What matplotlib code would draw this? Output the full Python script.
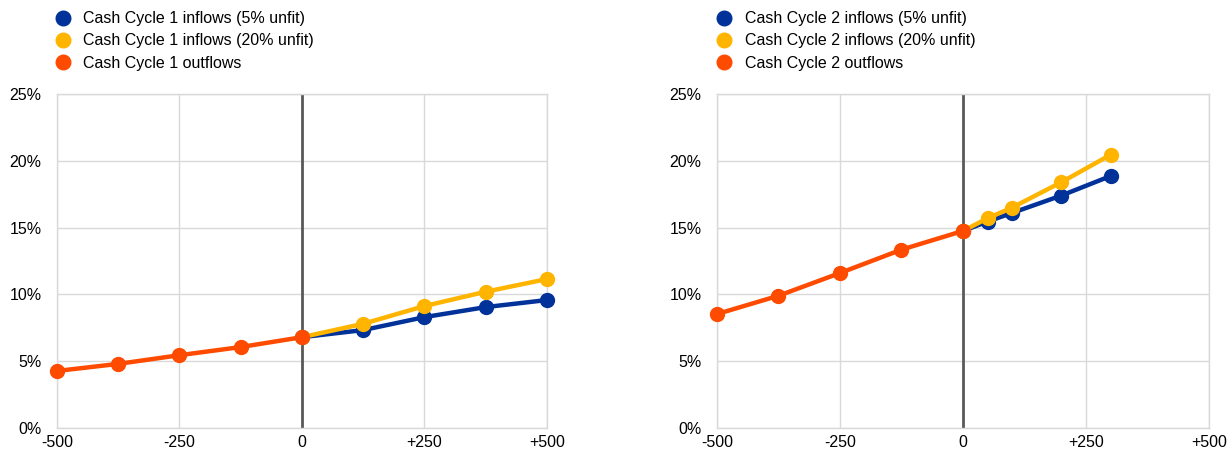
import matplotlib
matplotlib.use("Agg")
import matplotlib.pyplot as plt
from matplotlib.lines import Line2D
from matplotlib.ticker import FuncFormatter

plt.rcParams["font.family"] = ["Liberation Sans", "DejaVu Sans"]

BLUE = "#003299"
YELLOW = "#FFB400"
ORANGE = "#FF4B00"

# cash cycle 1
c1_out_x = [-500, -375, -250, -125, 0]
c1_out_y = [4.27, 4.8, 5.45, 6.06, 6.8]
c1_in_x = [0, 125, 250, 375, 500]
c1_in5_y = [6.8, 7.33, 8.3, 9.05, 9.58]
c1_in20_y = [6.8, 7.8, 9.13, 10.2, 11.15]

# cash cycle 2
c2_out_x = [-500, -375, -250, -125, 0]
c2_out_y = [8.53, 9.9, 11.6, 13.35, 14.75]
c2_in_x = [0, 50, 100, 200, 300]
c2_in5_y = [14.75, 15.45, 16.1, 17.4, 18.86]
c2_in20_y = [14.75, 15.7, 16.5, 18.4, 20.45]

xticks = [-500, -250, 0, 250, 500]
xtick_labels = ["-500", "-250", "0", "+250", "+500"]
yticks = [0, 5, 10, 15, 20, 25]

fig = plt.figure(figsize=(12.3, 4.55), dpi=100)
ax1 = fig.add_axes([0.0463, 0.0593, 0.3984, 0.7341])
ax2 = fig.add_axes([0.5829, 0.0593, 0.4000, 0.7341])

panels = [
    (ax1, "1", c1_out_x, c1_out_y, c1_in_x, c1_in5_y, c1_in20_y, 0.034),
    (ax2, "2", c2_out_x, c2_out_y, c2_in_x, c2_in5_y, c2_in20_y, 0.572),
]

for ax, n, ox, oy, ix, i5, i20, lx in panels:
    ax.set_xlim(-500, 500)
    ax.set_ylim(0, 25)
    ax.set_xticks(xticks)
    ax.set_xticklabels(xtick_labels)
    ax.set_yticks(yticks)
    ax.yaxis.set_major_formatter(FuncFormatter(lambda v, p: f"{v:.0f}%"))
    ax.grid(True, color="#d9d9d9", linewidth=1)
    ax.set_axisbelow(True)
    for s in ax.spines.values():
        s.set_color("#d9d9d9")
        s.set_linewidth(1)
    ax.tick_params(length=0, labelsize=11.5, colors="black")
    ax.tick_params(axis="x", pad=5)
    ax.tick_params(axis="y", pad=11)
    ax.axvline(0, color="#595959", linewidth=2, zorder=2)

    ax.plot(ix, i5, color=BLUE, lw=3.2, marker="o", ms=10, zorder=3, clip_on=False)
    ax.plot(ix, i20, color=YELLOW, lw=3.2, marker="o", ms=10, zorder=4, clip_on=False)
    ax.plot(ox, oy, color=ORANGE, lw=3.2, marker="o", ms=10, zorder=5, clip_on=False)

    handles = [
        Line2D([], [], ls="none", marker="o", ms=10.5, color=BLUE),
        Line2D([], [], ls="none", marker="o", ms=10.5, color=YELLOW),
        Line2D([], [], ls="none", marker="o", ms=10.5, color=ORANGE),
    ]
    labels = [
        f"Cash Cycle {n} inflows (5% unfit)",
        f"Cash Cycle {n} inflows (20% unfit)",
        f"Cash Cycle {n} outflows",
    ]
    fig.legend(handles, labels, loc="upper left", bbox_to_anchor=(lx, 1.0),
               frameon=False, fontsize=11.5, handletextpad=0.7,
               labelspacing=0.45, borderpad=0.2, handlelength=1.2)

fig.savefig("out.png", dpi=100)
